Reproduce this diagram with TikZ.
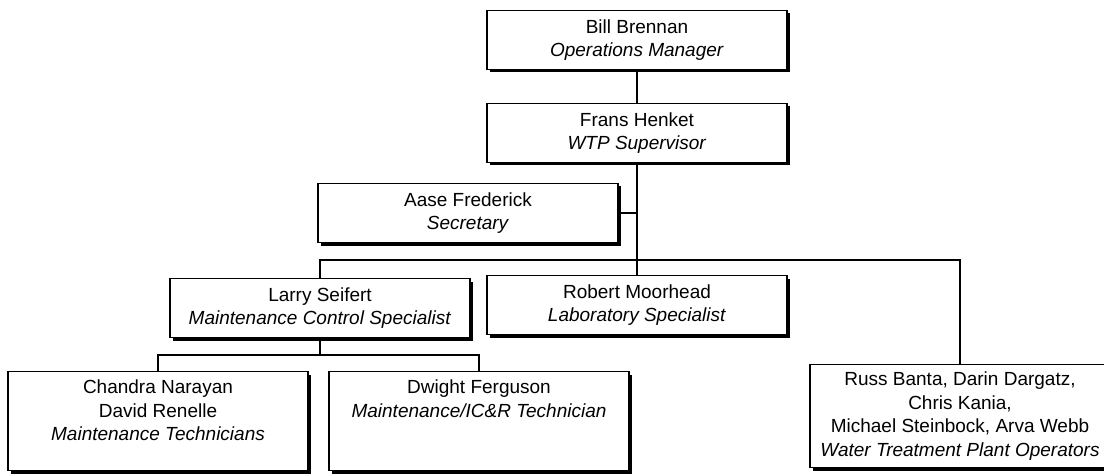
\documentclass[tikz,border=0pt]{standalone}
\usepackage{fontspec}
\setmainfont{Liberation Sans}
\usetikzlibrary{positioning,shadows}

\begin{document}
\begin{tikzpicture}[
    x=1pt, y=-1pt,
    box/.style={rectangle, draw=black, fill=white, line width=1.2pt, align=center, minimum width=300pt, minimum height=59pt, inner sep=0pt, font=\fontsize{19}{23.5}\selectfont, drop shadow={shadow xshift=3pt, shadow yshift=-3pt, fill=black, opacity=1}},
    tallbox/.style={box, minimum height=99pt},
    title/.style={anchor=north, align=center, inner sep=0pt, yshift=-9pt, font=\fontsize{19}{23.5}\selectfont},
    link/.style={line width=1.2pt, draw=black}
  ]
    \useasboundingbox (0,0) rectangle (1104,476);
    % management
    \node[box] (bill) at (637,40) {Bill Brennan\\\textit{Operations Manager}};
    \node[box] (frans) at (637,133) {Frans Henket\\\textit{WTP Supervisor}};
    \node[box] (secretary) at (468,213) {Aase Frederick\\\textit{Secretary}};
    % staff
    \node[box] (larry) at (320,308) {Larry Seifert\\\textit{Maintenance Control Specialist}};
    \node[box] (robert) at (637,305) {Robert Moorhead\\\textit{Laboratory Specialist}};
    \node[box, minimum height=103pt] (operators) at (960,416) {Russ Banta, Darin Dargatz,\\Chris Kania,\\Michael Steinbock, Arva Webb\\\textit{Water Treatment Plant Operators}};
    \node[tallbox, label={[title]north:{Chandra Narayan\\David Renelle\\\textit{Maintenance Technicians}}}] (chandra) at (158,421) {};
    \node[tallbox, label={[title]north:{Dwight Ferguson\\\textit{Maintenance/IC\&R Technician}}}] (dwight) at (479,421) {};
    \coordinate (bus) at (637,260);
    \coordinate (sub) at (320,355);
    \draw[link] (bill) -- (frans);
    \draw[link] (frans) -- (robert);
    \draw[link] (secretary.east) -- (secretary.east -| frans.south);
    \draw[link] (larry.north) |- (bus) -| (operators.north);
    \draw[link] (larry) -- (sub);
    \draw[link] (chandra.north) |- (sub) -| (dwight.north);
  \end{tikzpicture}
\end{document}
